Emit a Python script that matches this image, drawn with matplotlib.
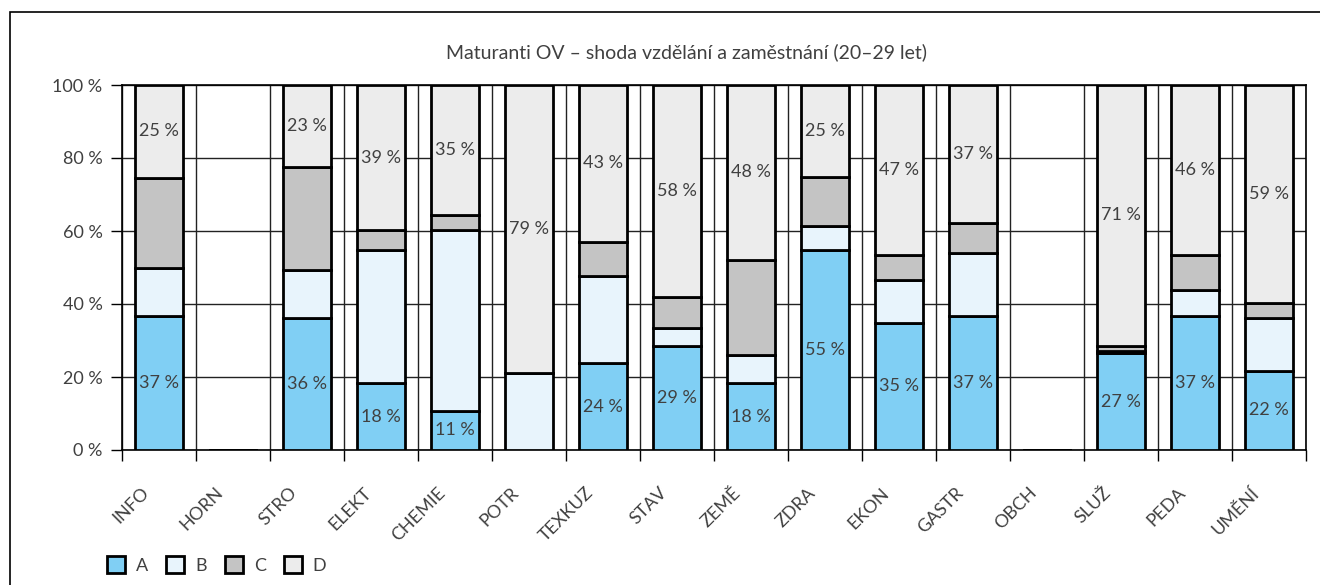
import matplotlib
matplotlib.use("Agg")
import matplotlib.pyplot as plt
import numpy as np
from matplotlib.patches import Rectangle, Patch
from matplotlib.transforms import ScaledTranslation

plt.rcParams['font.family'] = ['Lato', 'DejaVu Sans']
plt.rcParams['font.weight'] = 'normal'

title = "Maturanti OV – shoda vzdělání a zaměstnání (20–29 let)"
categories = ["INFO", "HORN", "STRO", "ELEKT", "CHEMIE", "POTR", "TEXKUZ", "STAV",
              "ZEMĚ", "ZDRA", "EKON", "GASTR", "OBCH", "SLUŽ", "PEDA", "UMĚNÍ"]
A = [36.6, 0, 36.2, 18.3, 10.8, 0, 23.8, 28.6, 18.3, 54.7, 34.8, 36.8, 0, 26.5, 36.8, 21.7]
B = [13.2, 0, 13.1, 36.5, 49.4, 21.1, 24.0, 4.8, 7.6, 6.8, 11.7, 17.2, 0, 0.6, 6.9, 14.4]
C = [24.8, 0, 28.2, 5.4, 4.2, 0, 9.2, 8.4, 26.2, 13.2, 6.9, 8.3, 0, 1.5, 9.7, 4.2]
D = [25.4, 0, 22.5, 39.8, 35.6, 78.9, 43.0, 58.2, 47.9, 25.3, 46.6, 37.7, 0, 71.4, 46.6, 59.7]
A_labels = ["37 %", "", "36 %", "18 %", "11 %", "", "24 %", "29 %", "18 %", "55 %",
            "35 %", "37 %", "", "27 %", "37 %", "22 %"]
D_labels = ["25 %", "", "23 %", "39 %", "35 %", "79 %", "43 %", "58 %", "48 %", "25 %",
            "47 %", "37 %", "", "71 %", "46 %", "59 %"]
series_names = ["A", "B", "C", "D"]
colors = ["#80CFF4", "#E8F4FC", "#C4C4C4", "#ECECEC"]
yticks = [0, 20, 40, 60, 80, 100]
ytick_labels = ["0 %", "20 %", "40 %", "60 %", "80 %", "100 %"]

txt = "#404040"
fs = 13
fig = plt.figure(figsize=(13.2, 5.85), dpi=100)
ax = fig.add_axes([122/1320, 1-450/585, (1306-122)/1320, (450-85)/585])

# outer frame
fig.patches.append(Rectangle((10/1320, -0.1), 1.2, 1-12/585+0.1, transform=fig.transFigure,
                             fill=False, edgecolor="black", linewidth=1.2, zorder=0))

x = np.arange(len(categories))
bottom = np.zeros(len(categories))
for vals, col, name in zip([A, B, C, D], colors, series_names):
    v = np.array(vals, dtype=float)
    ax.bar(x, v, width=0.65, bottom=bottom, color=col, edgecolor="black",
           linewidth=2.0, zorder=3, label=name)
    bottom += v

A_arr = np.array(A); B_arr = np.array(B); C_arr = np.array(C); D_arr = np.array(D)
for i in range(len(categories)):
    if A_labels[i]:
        ax.text(x[i], A_arr[i] / 2, A_labels[i], ha="center", va="center",
                fontsize=fs, color=txt, zorder=5)
    if D_labels[i]:
        base = A_arr[i] + B_arr[i] + C_arr[i]
        ax.text(x[i], base + D_arr[i] / 2, D_labels[i], ha="center", va="center",
                fontsize=fs, color=txt, zorder=5)

ax.set_xlim(-0.5, len(categories) - 0.5)
ax.set_ylim(0, 100)
ax.set_yticks(yticks)
ax.set_yticklabels(ytick_labels, fontsize=fs, color=txt)
ax.set_xticks(np.arange(len(categories) + 1) - 0.5)
ax.set_xticklabels([])
ax.set_xticks(x, minor=True)
ax.set_xticklabels(categories, minor=True, rotation=45, ha="right", va="center",
                   rotation_mode="anchor", fontsize=fs, color=txt)
ax.tick_params(axis="x", which="minor", length=0, pad=29)
ax.tick_params(axis="x", which="major", length=8, width=1, direction="out")
ax.tick_params(axis="y", length=8, width=1, pad=6)
for lbl in ax.get_xticklabels(minor=True):
    lbl.set_transform(lbl.get_transform() + ScaledTranslation(-9/72, 0, fig.dpi_scale_trans))
ax.grid(True, which="major", color="#222222", linewidth=1.0, zorder=0)
ax.set_axisbelow(True)
for s in ax.spines.values():
    s.set_linewidth(1.2)
    s.set_color("black")

fig.text(686/1320, 1-52/585, title, ha="center", va="center", fontsize=14, color=txt)

handles = [Patch(facecolor=c, edgecolor="black", linewidth=2.0) for c in colors]
fig.legend(handles, series_names, loc="center left", bbox_to_anchor=(91/1320, 1-565/585),
           ncol=4, frameon=False, fontsize=fs, handlelength=1.0, handleheight=1.0,
           handletextpad=0.6, columnspacing=1.0, labelcolor=txt)

fig.savefig("out.png", dpi=100)
